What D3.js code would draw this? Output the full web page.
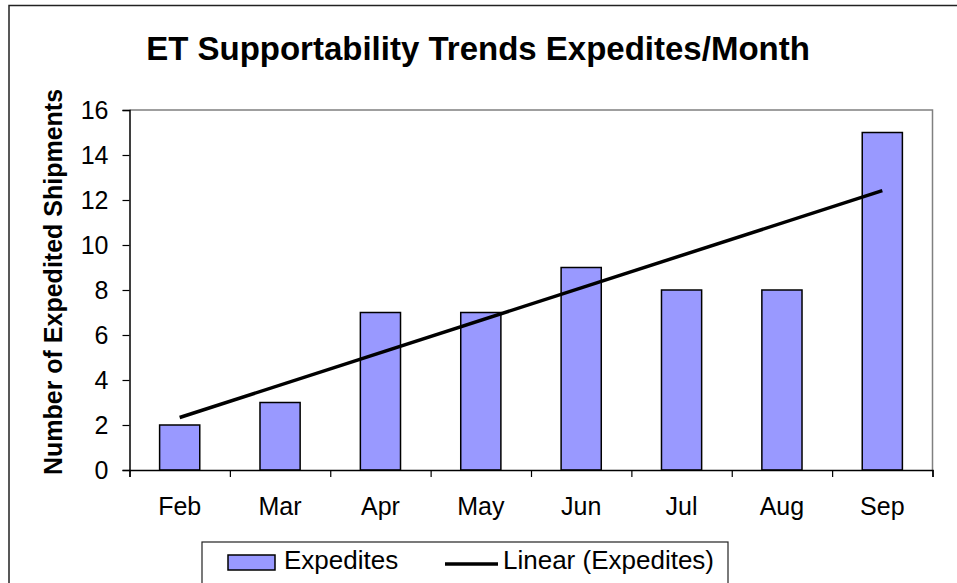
<!DOCTYPE html>
<html>
<head>
<meta charset="utf-8">
<script src="https://cdn.jsdelivr.net/npm/d3@7"></script>
<style>
  html, body { margin: 0; padding: 0; background: #fff; }
  svg { display: block; font-family: Arial, "Liberation Sans", sans-serif; }
</style>
</head>
<body>
<svg id="chart" width="957" height="583"></svg>
<script>
/* Chart data */
const months = ["Feb", "Mar", "Apr", "May", "Jun", "Jul", "Aug", "Sep"];
const expedites = [2, 3, 7, 7, 9, 8, 8, 15];
const yTicks = [0, 2, 4, 6, 8, 10, 12, 14, 16];

const titleText = "ET Supportability Trends Expedites/Month";
const yLabelText = "Number of Expedited Shipments";
const legendLabels = ["Expedites", "Linear (Expedites)"];

// Plot area in page pixels
const plot = { left: 129.5, right: 932.5, top: 110, bottom: 470 };

const svg = d3.select("#chart");

// Outer chart border (cropped on right and bottom in the reference)
svg.append("rect")
  .attr("x", 9).attr("y", 5.5)
  .attr("width", 1000).attr("height", 700)
  .attr("fill", "#fff")
  .attr("stroke", "#222")
  .attr("stroke-width", 1.5);

const x = d3.scaleBand()
  .domain(months)
  .range([plot.left, plot.right])
  .paddingInner(0.6)
  .paddingOuter(0.3);

// Category boundaries, used for the x tick marks
const xEdges = d3.scaleLinear()
  .domain([0, months.length])
  .range([plot.left, plot.right]);

const y = d3.scaleLinear()
  .domain([0, 16])
  .range([plot.bottom, plot.top]);

// Gray frame on top and right of the plot area
svg.append("path")
  .attr("d", `M${plot.left},${plot.top}H${plot.right}V${plot.bottom}`)
  .attr("fill", "none")
  .attr("stroke", "#808080")
  .attr("stroke-width", 1.5);

// Bars
svg.append("g")
  .selectAll("rect")
  .data(expedites)
  .join("rect")
  .attr("x", (d, i) => x(months[i]))
  .attr("y", d => y(d))
  .attr("width", x.bandwidth())
  .attr("height", d => y(0) - y(d))
  .attr("fill", "#9999FF")
  .attr("stroke", "#000")
  .attr("stroke-width", 1.5);

// Y axis
const yAxis = svg.append("g")
  .attr("transform", `translate(${plot.left},0)`)
  .call(d3.axisLeft(y).tickValues(yTicks).tickSize(7).tickPadding(14).tickFormat(d3.format("d")));
yAxis.select(".domain").attr("stroke", "#000").attr("stroke-width", 1.5);
yAxis.selectAll(".tick line").attr("stroke", "#000").attr("stroke-width", 1.2);
yAxis.selectAll(".tick text")
  .attr("font-size", 25)
  .attr("font-family", "Arial, 'Liberation Sans', sans-serif")
  .attr("fill", "#000");

// X axis: tick marks at category edges, labels at centers
const xAxis = svg.append("g")
  .attr("transform", `translate(0,${plot.bottom})`)
  .call(d3.axisBottom(xEdges).tickValues(d3.range(months.length + 1)).tickSize(7).tickFormat(""));
xAxis.select(".domain").attr("stroke", "#000").attr("stroke-width", 1.5);
xAxis.selectAll(".tick line").attr("stroke", "#000").attr("stroke-width", 1.2);

svg.append("g")
  .selectAll("text")
  .data(months)
  .join("text")
  .attr("x", d => x(d) + x.bandwidth() / 2)
  .attr("y", plot.bottom + 45)
  .attr("text-anchor", "middle")
  .attr("font-size", 25)
  .text(d => d);

// Linear trend line (least squares fit of the bar values)
const idx = d3.range(1, expedites.length + 1);
const mx = d3.mean(idx);
const my = d3.mean(expedites);
const slope = d3.sum(idx, (v, i) => (v - mx) * (expedites[i] - my)) / d3.sum(idx, v => (v - mx) ** 2);
const intercept = my - slope * mx;
const trend = [1, expedites.length].map(v => ({ cat: months[v - 1], val: intercept + slope * v }));

svg.append("path")
  .datum(trend)
  .attr("d", d3.line()
    .x(d => x(d.cat) + x.bandwidth() / 2)
    .y(d => y(d.val)))
  .attr("fill", "none")
  .attr("stroke", "#000")
  .attr("stroke-width", 3.5);

// Title
svg.append("text")
  .attr("x", 478)
  .attr("y", 60)
  .attr("text-anchor", "middle")
  .attr("font-size", 33)
  .attr("font-weight", "bold")
  .text(titleText);

// Y axis label
svg.append("text")
  .attr("transform", `translate(62,282) rotate(-90)`)
  .attr("text-anchor", "middle")
  .attr("font-size", 25)
  .attr("font-weight", "bold")
  .text(yLabelText);

// Legend
const legend = svg.append("g");
legend.append("rect")
  .attr("x", 202).attr("y", 542)
  .attr("width", 526).attr("height", 80)
  .attr("fill", "#fff")
  .attr("stroke", "#222")
  .attr("stroke-width", 1.2);
legend.append("rect")
  .attr("x", 228).attr("y", 555)
  .attr("width", 47).attr("height", 15)
  .attr("fill", "#9999FF")
  .attr("stroke", "#000")
  .attr("stroke-width", 1.5);
legend.append("text")
  .attr("x", 284).attr("y", 569)
  .attr("font-size", 26)
  .text(legendLabels[0]);
legend.append("line")
  .attr("x1", 445).attr("x2", 498)
  .attr("y1", 564).attr("y2", 564)
  .attr("stroke", "#000")
  .attr("stroke-width", 3.5);
legend.append("text")
  .attr("x", 503).attr("y", 569)
  .attr("font-size", 26)
  .text(legendLabels[1]);
</script>
</body>
</html>
